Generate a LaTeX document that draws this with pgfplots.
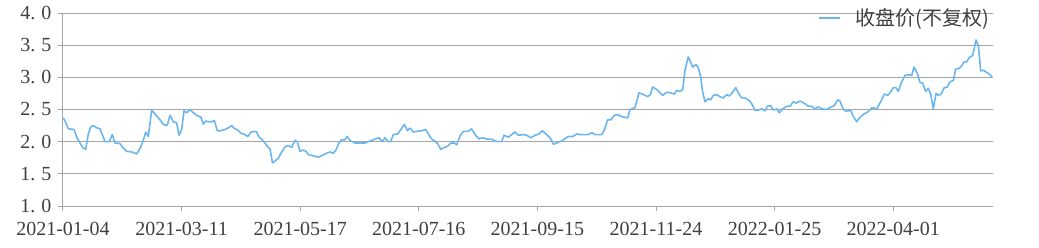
\documentclass[border=0pt]{standalone}
\usepackage{fontspec}
\setmainfont{Liberation Serif}
\newfontfamily\cjk{Noto Sans CJK SC}
\usepackage{pgfplots}
\pgfplotsset{compat=1.18}
\definecolor{linec}{HTML}{6CB6EE}
\definecolor{gridc}{HTML}{A6A6A6}
\definecolor{txtc}{HTML}{404040}
\begin{document}
\begin{tikzpicture}
\useasboundingbox (-63pt,-41pt) rectangle (976pt,206pt);
\begin{axis}[
  at={(0pt,0pt)}, anchor=south west,
  scale only axis, width=930pt, height=193pt,
  xmin=63, xmax=993, ymin=1, ymax=4,
  axis x line*=bottom, axis y line*=left,
  axis line style={gridc, line width=1pt},
  xtick={63,181.6,300.2,418.8,537.4,656,774.6,893.2},
  xticklabels={2021-01-04,2021-03-11,2021-05-17,2021-07-16,2021-09-15,2021-11-24,2022-01-25,2022-04-01},
  ytick={1,1.5,2,2.5,3,3.5,4},
  yticklabels={1.\kern6pt0,1.\kern6pt5,2.\kern6pt0,2.\kern6pt5,3.\kern6pt0,3.\kern6pt5,4.\kern6pt0},
  ymajorgrids, major grid style={gridc, line width=1pt},
  tick align=outside, major tick length=5pt,
  tick style={gridc, line width=1pt},
  ticklabel style={font=\fontsize{20}{20}\selectfont, text=txtc},
  xticklabel style={yshift=-8pt},
  yticklabel style={xshift=-3pt},
  legend style={at={(0.9957,0.974)}, anchor=east, draw=none, fill=none,
    inner sep=0pt, nodes={inner sep=0pt, text=txtc, font=\cjk\fontsize{20}{20}\selectfont},
    /tikz/every odd column/.style={column sep=14pt}},
  legend image code/.code={\draw[#1] (0pt,0pt) -- (21pt,0pt);},
]
\addplot[linec, line width=1.6pt, line join=round] coordinates {
(63.3,2.37)(66,2.29)(68.3,2.20)(74,2.19)(77.3,2.05)(79.3,2.00)(82.7,1.91)(85.7,1.88)(88.3,2.12)(90.7,2.23)(93.3,2.25)(96,2.22)(100,2.20)(102.3,2.11)(105,2.00)(109.3,2.00)(112.3,2.11)(115,1.98)(120,1.97)(122.7,1.91)(126.7,1.85)(131.7,1.84)(136.7,1.81)(140,1.89)(143.3,2.02)(145.7,2.15)(148.3,2.08)(151.7,2.49)(156.7,2.40)(160,2.34)(163.3,2.27)(166.7,2.25)(167.7,2.28)(170,2.41)(173.3,2.31)(176.7,2.29)(179,2.10)(181.7,2.19)(184,2.48)(186.7,2.45)(190,2.50)(193.3,2.45)(196.7,2.41)(201,2.38)(203.3,2.27)(205.7,2.32)(209,2.31)(211.7,2.31)(214.3,2.33)(217.3,2.17)(221,2.17)(225,2.19)(229,2.22)(231.7,2.25)(234,2.21)(237.7,2.18)(241,2.13)(245,2.11)(247.7,2.08)(251,2.15)(254.3,2.16)(256.7,2.15)(259,2.07)(261.7,2.04)(265,1.98)(267.7,1.92)(270,1.89)(272.5,1.67)(275,1.70)(278.3,1.74)(281.7,1.84)(285,1.92)(288.3,1.94)(291.7,1.91)(295,2.02)(297.3,2.00)(300,1.85)(303.3,1.87)(306,1.85)(308.3,1.80)(313.3,1.78)(318.3,1.76)(322.7,1.79)(326.7,1.82)(330,1.84)(333.3,1.82)(336,1.87)(339,1.98)(341.7,2.03)(345,2.03)(347.3,2.08)(350,2.02)(355,1.98)(360,1.98)(365,1.98)(368.3,2.00)(373.3,2.03)(375,2.04)(379,2.06)(382.3,2.00)(385,2.06)(388.3,2.00)(390.7,2.00)(393.3,2.11)(397.7,2.12)(401,2.19)(404.3,2.27)(407.3,2.17)(410,2.21)(413.3,2.15)(416.7,2.16)(421.7,2.17)(425.7,2.19)(428.3,2.12)(431.7,2.04)(435,2.01)(437.7,1.97)(440.7,1.88)(444,1.91)(446.7,1.92)(451,1.98)(454.3,1.98)(456.7,1.95)(460,2.09)(463.3,2.16)(468.3,2.16)(471.7,2.20)(475,2.11)(479,2.04)(480,2.05)(483.3,2.06)(486.7,2.04)(491.7,2.04)(495,2.01)(498.3,2.00)(501.7,2.00)(504,2.10)(508.3,2.07)(511.7,2.11)(515,2.15)(518.3,2.10)(523.3,2.11)(526.7,2.10)(531,2.06)(535,2.10)(539,2.12)(542.3,2.17)(546,2.12)(550,2.06)(553.3,1.96)(556.7,1.98)(561.7,2.01)(565,2.05)(568.3,2.08)(572.7,2.08)(576.7,2.12)(580,2.11)(585,2.11)(588.3,2.11)(591.7,2.14)(595,2.11)(601.7,2.11)(604.3,2.18)(607.7,2.34)(611,2.34)(614.3,2.41)(617.7,2.42)(621.7,2.39)(627.7,2.37)(630,2.50)(635,2.53)(639,2.76)(642.3,2.74)(647.7,2.70)(650.3,2.73)(652.7,2.85)(656.7,2.81)(660,2.76)(662.7,2.72)(666.7,2.77)(670,2.76)(674.3,2.74)(676.7,2.80)(680,2.78)(682.7,2.81)(685,3.11)(688.3,3.32)(692.7,3.16)(696,3.20)(698.3,3.15)(700.7,3.01)(702.7,2.77)(705,2.62)(708.3,2.67)(710.7,2.65)(713.3,2.72)(716.7,2.73)(720,2.70)(723.3,2.68)(726.7,2.73)(729.3,2.71)(732.7,2.77)(735.7,2.84)(738.3,2.76)(741.7,2.68)(745,2.68)(749.3,2.64)(751.7,2.59)(755,2.49)(758.3,2.49)(761.7,2.51)(765,2.48)(767.3,2.55)(770.7,2.56)(773.3,2.49)(776.7,2.51)(779.3,2.45)(782.7,2.51)(786.7,2.55)(790,2.55)(793.3,2.62)(796,2.60)(800,2.63)(801.7,2.62)(805,2.59)(808.3,2.55)(811.7,2.55)(815,2.51)(818.3,2.54)(821.7,2.51)(826.7,2.50)(830,2.53)(834.3,2.56)(837.7,2.65)(840,2.63)(843.3,2.50)(846.7,2.47)(850.7,2.49)(853.3,2.39)(856.7,2.31)(860,2.38)(864,2.43)(867.7,2.46)(872.3,2.53)(876.7,2.51)(881,2.63)(884.3,2.74)(887.7,2.72)(890,2.76)(893.3,2.84)(896,2.84)(898.3,2.78)(901.7,2.93)(905,3.03)(908.3,3.04)(911.7,3.03)(914,3.16)(917.3,3.06)(920,2.92)(922.7,2.91)(925.7,2.78)(928.3,2.83)(930.7,2.74)(933.3,2.51)(936,2.75)(938.3,2.72)(941,2.74)(944.3,2.84)(947.3,2.85)(950,2.93)(953.3,2.95)(955.7,3.13)(959.3,3.14)(961.7,3.18)(964,3.24)(966.7,3.24)(969.3,3.31)(972.7,3.34)(976,3.58)(978.3,3.50)(980.7,3.10)(983.3,3.11)(987.3,3.07)(990,3.04)(992,3.00)
};
\addlegendentry{收盘价(不复权)}
\end{axis}
\end{tikzpicture}
\end{document}
